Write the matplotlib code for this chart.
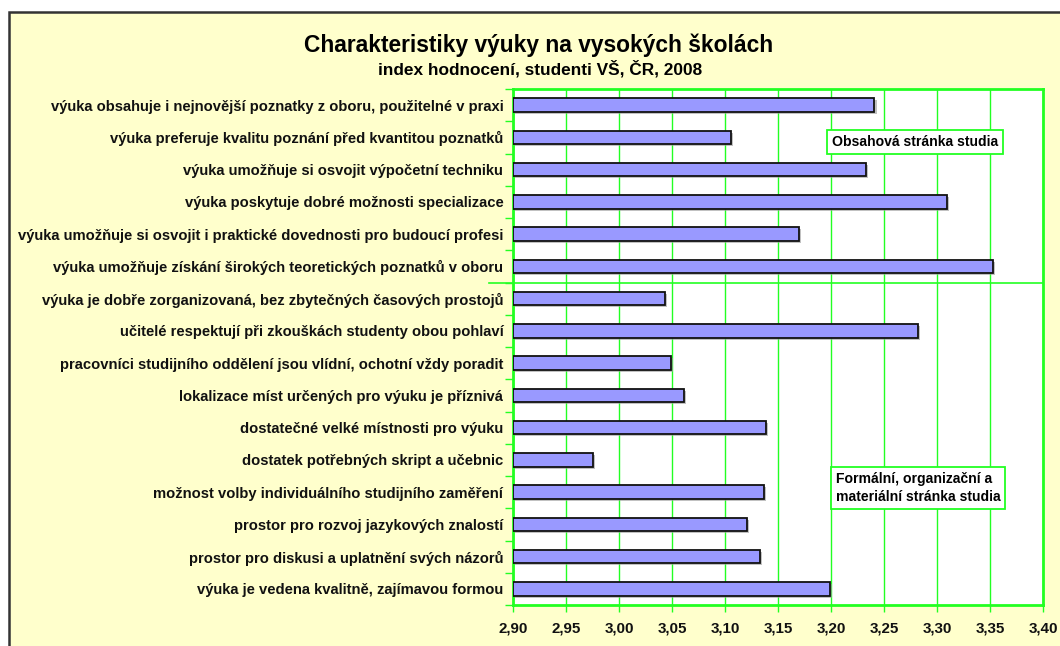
import numpy as np
import matplotlib
matplotlib.use("Agg")
import matplotlib.pyplot as plt
from matplotlib.patches import Rectangle
from matplotlib import patheffects as pe
from matplotlib.ticker import FixedLocator, FuncFormatter
import matplotlib.transforms as mtransforms

plt.rcParams['font.family'] = ['Liberation Sans', 'DejaVu Sans']

categories = [
    "výuka obsahuje i nejnovější poznatky z oboru, použitelné v praxi",
    "výuka preferuje kvalitu poznání před kvantitou poznatků",
    "výuka umožňuje si osvojit výpočetní techniku",
    "výuka poskytuje dobré možnosti specializace",
    "výuka umožňuje si osvojit i praktické dovednosti pro budoucí profesi",
    "výuka umožňuje získání širokých teoretických poznatků v oboru",
    "výuka je dobře zorganizovaná, bez zbytečných časových prostojů",
    "učitelé respektují při zkouškách studenty obou pohlaví",
    "pracovníci studijního oddělení jsou vlídní, ochotní vždy poradit",
    "lokalizace míst určených pro výuku je příznivá",
    "dostatečné velké místnosti pro výuku",
    "dostatek potřebných skript a učebnic",
    "možnost volby individuálního studijního zaměření",
    "prostor pro rozvoj jazykových znalostí",
    "prostor pro diskusi a uplatnění svých názorů",
    "výuka je vedena kvalitně, zajímavou formou",
]
values = [3.241, 3.106, 3.233, 3.309, 3.170, 3.353,
          3.043, 3.282, 3.049, 3.061, 3.139, 2.975, 3.137, 3.121, 3.133, 3.199]
x_ticks = [2.90, 2.95, 3.00, 3.05, 3.10, 3.15, 3.20, 3.25, 3.30, 3.35, 3.40]

title = "Charakteristiky výuky na vysokých školách"
subtitle = "index hodnocení, studenti VŠ, ČR, 2008"
box1_text = "Obsahová stránka studia"
box2_text = "Formální, organizační a\nmateriální stránka studia"

W, H = 1060, 646
fig = plt.figure(figsize=(W / 100, H / 100), dpi=100)
fig.patch.set_facecolor('white')

# chart area background with dark border
fig.patches.append(Rectangle((9 / W, -0.1), 1.2, 1 - 12 / H + 0.1,
                             transform=fig.transFigure, facecolor='#FFFFCC',
                             edgecolor='#333333', linewidth=1.8, zorder=-10))

green = '#22FF22'
ax = fig.add_axes([513 / W, 1 - 605 / H, 530 / W, 516 / H])
ax.set_facecolor('white')

n = len(categories)
y = np.arange(n)
bars = ax.barh(y, np.array(values) - x_ticks[0], left=x_ticks[0], height=0.42,
               color='#9999FF', edgecolor='#111111', linewidth=1.3, zorder=3)
for b in bars:
    b.set_path_effects([pe.SimplePatchShadow(offset=(1.5, -1.5), shadow_rgbFace='#999999', alpha=0.6),
                        pe.Normal()])

ax.set_xlim(x_ticks[0], x_ticks[-1])
ax.set_ylim(n - 0.5, -0.5)

ax.xaxis.set_major_locator(FixedLocator(x_ticks))
ax.xaxis.set_major_formatter(FuncFormatter(lambda v, p: f"{v:.2f}".replace('.', ',')))
ax.grid(axis='x', color=green, linewidth=1.0, zorder=1)
ax.set_axisbelow(True)

ax.set_yticks(y)
ax.set_yticklabels(categories)
ax.yaxis.set_minor_locator(FixedLocator(np.arange(-0.5, n, 1.0)))
ax.tick_params(axis='y', which='major', length=0, pad=7, labelsize=10.6)
ax.tick_params(axis='y', which='minor', length=6, width=1, color=green, direction='out')
ax.tick_params(axis='x', which='major', length=5, width=1, color=green, direction='out',
               pad=7, labelsize=10.9)
for lab in ax.get_yticklabels() + ax.get_xticklabels():
    lab.set_fontweight('bold')
    lab.set_color('#111111')

for s in ax.spines.values():
    s.set_color(green)
    s.set_linewidth(2)

# separator line between groups
trans = mtransforms.blended_transform_factory(ax.transAxes, ax.transData)
ax.plot([-0.045, 1.0], [5.5, 5.5], transform=trans, color=green, linewidth=1.2,
        clip_on=False, zorder=4)

# group annotation boxes
ax.text(3.2006, 1.143, box1_text, fontsize=10.1, fontweight='bold', ha='left', va='center',
        zorder=5, bbox=dict(boxstyle='square,pad=0.33', facecolor='white', edgecolor=green, linewidth=1.3))
ax.text(3.2047, 11.87, box2_text, fontsize=10.1, fontweight='bold', ha='left', va='center',
        linespacing=1.4, zorder=5,
        bbox=dict(boxstyle='square,pad=0.33', facecolor='white', edgecolor=green, linewidth=1.3))

fig.text(539 / W, 1 - 45 / H, title, ha='center', va='center', fontsize=16.4, fontweight='bold')
fig.text(540 / W, 1 - 69 / H, subtitle, ha='center', va='center', fontsize=12.4, fontweight='bold')

fig.savefig('out.png', dpi=100, facecolor=fig.get_facecolor())
